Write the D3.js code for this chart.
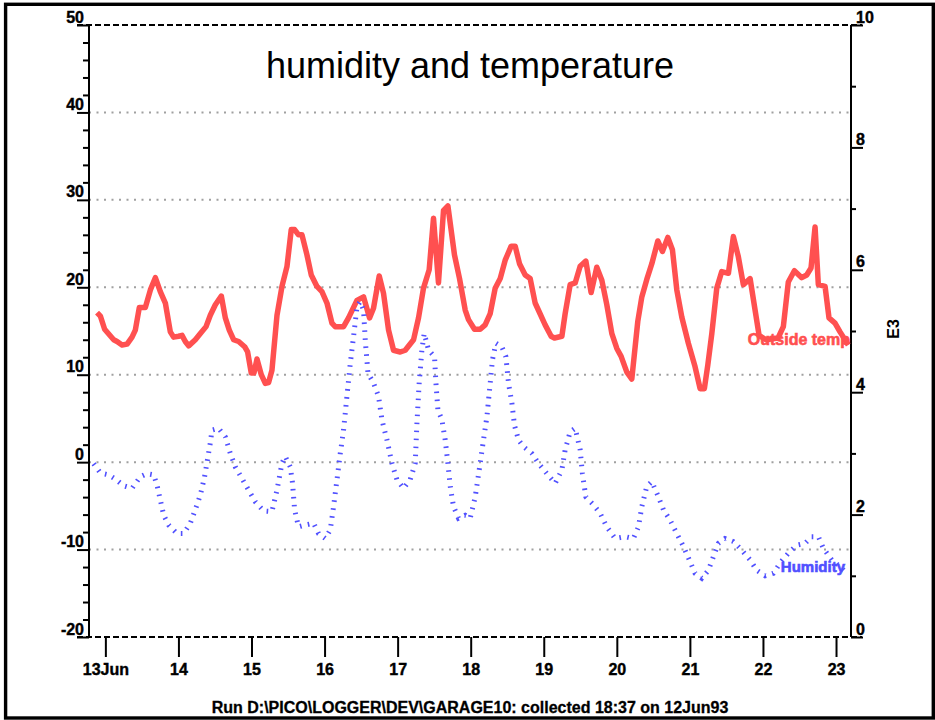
<!DOCTYPE html>
<html>
<head>
<meta charset="utf-8">
<script src="https://cdn.jsdelivr.net/npm/d3@7"></script>
<style>
  body { margin: 0; background: #fff; }
  svg text { font-family: "Liberation Sans", Arial, sans-serif; }
</style>
</head>
<body>
<svg class="logger-chart" width="935" height="720"></svg>
<script>
// time in days from 13 Jun 1993 00:00
let tempDays = [-0.114, -0.068, -0.010, 0.114, 0.160, 0.228, 0.297, 0.365, 0.410, 0.465, 0.547, 0.616, 0.684, 0.752, 0.821, 0.889, 0.934, 1.003, 1.049, 1.094,
  1.140, 1.231, 1.300, 1.378, 1.436, 1.505, 1.587, 1.642, 1.696, 1.755, 1.824, 1.906, 1.947, 1.997, 2.034, 2.075, 2.134, 2.189, 2.234, 2.280,
  2.349, 2.417, 2.486, 2.544, 2.590, 2.644, 2.691, 2.759, 2.818, 2.896, 2.964, 3.033, 3.101, 3.146, 3.260, 3.328, 3.443, 3.534, 3.616, 3.670,
  3.748, 3.807, 3.876, 3.944, 4.036, 4.104, 4.218, 4.286, 4.354, 4.432, 4.491, 4.559, 4.628, 4.688, 4.778, 4.847, 4.925, 4.970, 5.052, 5.130,
  5.198, 5.267, 5.335, 5.404, 5.472, 5.554, 5.609, 5.668, 5.746, 5.814, 5.882, 5.937, 6.019, 6.101, 6.146, 6.248, 6.293, 6.361, 6.430, 6.498,
  6.576, 6.648, 6.726, 6.795, 6.863, 6.932, 7.000, 7.059, 7.137, 7.205, 7.287, 7.342, 7.410, 7.479, 7.561, 7.624, 7.698, 7.761, 7.821, 7.889,
  7.979, 8.071, 8.140, 8.198, 8.245, 8.300, 8.368, 8.436, 8.527, 8.595, 8.663, 8.732, 8.824, 8.892, 8.947, 9.042, 9.207, 9.279, 9.347, 9.430,
  9.531, 9.599, 9.658, 9.713, 9.758, 9.850, 9.904, 9.986, 10.055, 10.168];
let tempValues = [17.1, 16.7, 15.2, 14.0, 13.8, 13.4, 13.5, 14.3, 15.1, 17.7, 17.7, 19.7, 21.1, 19.5, 18.2, 14.9, 14.3, 14.4, 14.5, 13.8,
  13.3, 14.0, 14.7, 15.5, 16.8, 18.0, 19.0, 16.5, 15.1, 14.0, 13.8, 13.2, 12.6, 10.2, 10.2, 11.8, 10.0, 9.0, 9.1, 10.5,
  16.8, 20.1, 22.4, 26.6, 26.6, 26.0, 26.0, 23.7, 21.4, 20.1, 19.5, 18.2, 15.9, 15.5, 15.5, 16.5, 18.5, 18.9, 16.5, 17.6,
  21.3, 19.3, 15.1, 12.8, 12.6, 12.8, 14.0, 16.5, 19.9, 22.0, 27.9, 20.5, 28.8, 29.3, 23.7, 21.0, 17.4, 16.3, 15.2, 15.2,
  15.7, 17.0, 19.9, 21.0, 23.1, 24.7, 24.7, 22.7, 21.4, 21.0, 18.2, 17.2, 15.7, 14.4, 14.2, 14.4, 17.0, 20.3, 20.5, 22.4,
  23.0, 19.4, 22.3, 20.8, 18.0, 14.7, 13.0, 12.1, 10.3, 9.5, 16.1, 18.9, 20.9, 22.7, 25.3, 24.1, 25.7, 24.3, 19.7, 16.6,
  13.6, 10.9, 8.4, 8.4, 11.1, 14.7, 19.9, 21.8, 21.6, 25.8, 23.5, 20.3, 21.0, 17.4, 14.5, 14.0, 14.2, 15.5, 20.6, 21.9,
  21.1, 21.4, 22.2, 26.9, 20.3, 20.1, 16.5, 15.9, 14.9, 13.4];

let humDays = [-0.160, -0.068, 0.045, 0.137, 0.250, 0.365, 0.479, 0.570, 0.661, 0.707, 0.752, 0.798, 0.866, 0.981, 1.071, 1.163, 1.231, 1.300, 1.358, 1.405,
  1.436, 1.459, 1.550, 1.642, 1.710, 1.778, 1.870, 1.960, 2.052, 2.166, 2.280, 2.349, 2.417, 2.462, 2.531, 2.562, 2.590, 2.644, 2.736, 2.850,
  2.918, 3.010, 3.078, 3.123, 3.170, 3.215, 3.260, 3.306, 3.352, 3.397, 3.444, 3.488, 3.534, 3.557, 3.594, 3.670, 3.739, 3.785, 3.854, 3.922,
  3.990, 4.081, 4.172, 4.241, 4.264, 4.295, 4.332, 4.364, 4.423, 4.505, 4.524, 4.551, 4.606, 4.651, 4.688, 4.720, 4.765, 4.833, 4.925, 4.993,
  5.062, 5.130, 5.175, 5.222, 5.267, 5.298, 5.345, 5.427, 5.482, 5.517, 5.564, 5.599, 5.654, 5.722, 5.837, 5.927, 6.042, 6.156, 6.248, 6.293,
  6.361, 6.430, 6.498, 6.529, 6.576, 6.680, 6.772, 6.863, 6.977, 7.114, 7.227, 7.296, 7.342, 7.410, 7.479, 7.569, 7.638, 7.729, 7.821, 7.911,
  8.003, 8.071, 8.163, 8.253, 8.321, 8.390, 8.481, 8.595, 8.710, 8.824, 8.915, 9.029, 9.142, 9.248, 9.347, 9.462, 9.576, 9.667, 9.758, 9.826,
  9.941, 10.055, 10.147];
// humidity, E3 (right axis)
let humValues = [2.83, 2.68, 2.65, 2.58, 2.47, 2.43, 2.62, 2.67, 2.65, 2.48, 2.24, 1.99, 1.83, 1.69, 1.69, 1.86, 2.08, 2.32, 2.62, 2.95,
  3.17, 3.38, 3.41, 3.27, 3.00, 2.78, 2.59, 2.40, 2.21, 2.06, 2.05, 2.40, 2.84, 2.95, 2.78, 2.51, 2.08, 1.80, 1.83, 1.86,
  1.69, 1.61, 1.75, 2.13, 2.57, 3.00, 3.38, 3.93, 4.47, 4.91, 5.40, 5.48, 5.34, 4.85, 4.31, 4.15, 3.93, 3.55, 3.22, 2.84,
  2.57, 2.43, 2.57, 2.84, 3.49, 4.15, 4.69, 4.96, 4.69, 4.58, 4.15, 3.71, 3.55, 3.22, 2.84, 2.46, 2.13, 1.94, 1.99, 1.94,
  2.29, 2.84, 3.22, 3.60, 4.15, 4.53, 4.80, 4.74, 4.58, 4.15, 3.82, 3.46, 3.22, 3.11, 3.00, 2.84, 2.67, 2.51, 2.73, 3.06,
  3.35, 3.41, 3.06, 2.67, 2.29, 2.16, 2.02, 1.80, 1.61, 1.64, 1.61, 1.80, 2.13, 2.46, 2.54, 2.29, 2.08, 1.91, 1.69, 1.48,
  1.23, 1.04, 0.96, 1.09, 1.31, 1.53, 1.61, 1.56, 1.42, 1.26, 1.09, 1.00, 1.04, 1.23, 1.37, 1.50, 1.53, 1.64, 1.64, 1.45,
  1.26, 1.15, 1.04];

let leftTicks = [-20, -10, 0, 10, 20, 30, 40, 50];
let rightTicks = [0, 2, 4, 6, 8, 10];
let dayTicks = [0, 1, 2, 3, 4, 5, 6, 7, 8, 9, 10];
let dayLabels = ["13Jun", "14", "15", "16", "17", "18", "19", "20", "21", "22", "23"];

let titleText = "humidity and temperature";
let footerText = "Run D:\\PICO\\LOGGER\\DEV\\GARAGE10: collected 18:37 on 12Jun93";

// colours
let temp_color = "#ff5050";
let hum_color = "#5050ff";

// plot box
let margin = { left: 89, right: 851, top: 25, bottom: 637 };

let svg = d3.select(".logger-chart");

// outer frame
svg.append("rect")
  .attr("x", 5.6).attr("y", 4.3)
  .attr("width", 927.7).attr("height", 713.7)
  .attr("fill", "none")
  .attr("stroke", "#000")
  .attr("stroke-width", 3.4);

// scales: start of logging 12Jun 18:37 = -0.224 days
let xScale = d3.scaleLinear()
  .domain([-0.224, 10.205])
  .range([margin.left, margin.right]);

let yLeft = d3.scaleLinear()
  .domain([-20, 50])
  .range([margin.bottom, margin.top]);

let yRight = d3.scaleLinear()
  .domain([0, 10])
  .range([margin.bottom, margin.top]);

// dotted grid lines
svg.append("g")
  .attr("class", "grid")
  .selectAll("line")
  .data(leftTicks.filter(d => d > -20 && d < 50))
  .enter().append("line")
  .attr("x1", margin.left).attr("x2", margin.right)
  .attr("y1", d => yLeft(d)).attr("y2", d => yLeft(d))
  .attr("stroke", "#a0a0a0")
  .attr("stroke-width", 2)
  .attr("stroke-dasharray", "2,5.5");

// dashed top and bottom frame lines
svg.append("g")
  .selectAll("line")
  .data([50, -20])
  .enter().append("line")
  .attr("x1", 77).attr("x2", 862)
  .attr("y1", d => yLeft(d)).attr("y2", d => yLeft(d))
  .attr("stroke", "#000")
  .attr("stroke-width", 2)
  .attr("stroke-dasharray", "6,3");

// left axis
let leftAxis = d3.axisLeft(yLeft)
  .tickValues(d3.range(-20, 51, 2))
  .tickSize(6)
  .tickFormat("");

let gLeft = svg.append("g")
  .attr("class", "left-axis")
  .attr("transform", "translate(" + margin.left + ",0)")
  .call(leftAxis);
gLeft.select(".domain").attr("stroke-width", 2).attr("d", "M0," + margin.top + "V" + margin.bottom);
gLeft.selectAll(".tick line")
  .attr("stroke-width", 2)
  .attr("x2", d => (d % 10 === 0 ? -12 : -6));

svg.append("g")
  .selectAll("text")
  .data(leftTicks)
  .enter().append("text")
  .attr("x", 84)
  .attr("y", d => yLeft(d) - 2.5)
  .attr("text-anchor", "end")
  .attr("stroke", "#000")
  .attr("stroke-width", 0.4)
  .style("font-size", "16px")
  .style("font-weight", "bold")
  .text(d => d);

// right axis (E3)
let rightAxis = d3.axisRight(yRight)
  .tickValues(d3.range(0, 11, 1))
  .tickSize(5)
  .tickFormat("");

let gRight = svg.append("g")
  .attr("class", "right-axis")
  .attr("transform", "translate(" + margin.right + ",0)")
  .call(rightAxis);
gRight.select(".domain").attr("stroke-width", 2).attr("d", "M0," + margin.top + "V" + margin.bottom);
gRight.selectAll(".tick line")
  .attr("stroke-width", 2)
  .attr("x2", d => (d % 2 === 0 ? 12 : 5));

svg.append("g")
  .selectAll("text")
  .data(rightTicks)
  .enter().append("text")
  .attr("x", 856)
  .attr("y", d => yRight(d) - 2.5)
  .attr("stroke", "#000")
  .attr("stroke-width", 0.4)
  .style("font-size", "16px")
  .style("font-weight", "bold")
  .text(d => d);

svg.append("text")
  .attr("transform", "translate(899,329) rotate(-90)")
  .attr("text-anchor", "middle")
  .style("font-size", "16px")
  .style("font-weight", "bold")
  .text("E3");

// bottom axis, one tick per day
let xAxis = d3.axisBottom(xScale)
  .tickValues(dayTicks)
  .tickSize(20)
  .tickPadding(7)
  .tickFormat((d, i) => dayLabels[i]);

let gX = svg.append("g")
  .attr("class", "x-axis")
  .attr("transform", "translate(0," + margin.bottom + ")")
  .call(xAxis);
gX.select(".domain").remove();
gX.selectAll(".tick line").attr("stroke-width", 2);
gX.selectAll(".tick text")
  .attr("fill", "#000")
  .attr("stroke", "#000")
  .attr("stroke-width", 0.4)
  .style("font-family", "Liberation Sans, Arial, sans-serif")
  .style("font-size", "16px")
  .style("font-weight", "bold");

// temperature line
let tempLine = d3.line()
  .x((d, i) => xScale(tempDays[i]))
  .y(d => yLeft(d));

svg.append("path")
  .datum(tempValues)
  .attr("fill", "none")
  .attr("stroke", temp_color)
  .attr("stroke-width", 5.5)
  .attr("stroke-linejoin", "round")
  .attr("d", tempLine);

// humidity line, drawn as short cross strokes
let humLine = d3.line()
  .x((d, i) => xScale(humDays[i]))
  .y(d => yRight(d));

svg.append("path")
  .datum(humValues)
  .attr("fill", "none")
  .attr("stroke", hum_color)
  .attr("stroke-width", 5)
  .attr("stroke-dasharray", "1.6,6.4")
  .attr("d", humLine);

// series labels
svg.append("text")
  .attr("x", 850).attr("y", 345)
  .attr("text-anchor", "end")
  .attr("fill", temp_color)
  .attr("stroke", temp_color)
  .attr("stroke-width", 0.6)
  .style("font-size", "16px")
  .style("font-weight", "bold")
  .text("Outside temp");

svg.append("text")
  .attr("x", 845).attr("y", 572)
  .attr("text-anchor", "end")
  .attr("fill", hum_color)
  .attr("stroke", hum_color)
  .attr("stroke-width", 0.6)
  .style("font-size", "15px")
  .style("font-weight", "bold")
  .text("Humidity");

// title and footer
svg.append("text")
  .attr("x", 470).attr("y", 78)
  .attr("text-anchor", "middle")
  .style("font-size", "36px")
  .text(titleText);

svg.append("text")
  .attr("x", 470).attr("y", 713)
  .attr("text-anchor", "middle")
  .attr("stroke", "#000")
  .attr("stroke-width", 0.3)
  .style("font-size", "16px")
  .style("font-weight", "bold")
  .text(footerText);
</script>
</body>
</html>
